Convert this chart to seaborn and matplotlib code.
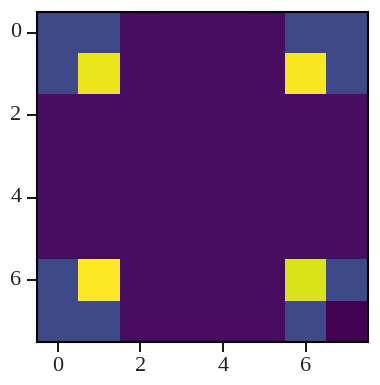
import numpy as np
import pandas as pd
import seaborn as sns
import matplotlib
matplotlib.use("Agg")
import matplotlib.pyplot as plt
from matplotlib import font_manager

sns.set_style("ticks")
names = sorted({f.name for f in font_manager.fontManager.ttflist})
print(names)
plt.rcParams['font.family'] = ['Liberation Serif']

row0 = [0.22, 0.22, 0.035, 0.036, 0.036, 0.035, 0.22, 0.22]
row1 = [0.22, 0.97, 0.035, 0.034, 0.034, 0.034, 0.99, 0.22]
row2 = [0.034, 0.033, 0.035, 0.035, 0.035, 0.034, 0.034, 0.035]
row3 = [0.033, 0.033, 0.035, 0.035, 0.035, 0.036, 0.035, 0.035]
row4 = [0.033, 0.034, 0.034, 0.035, 0.034, 0.034, 0.034, 0.035]
row5 = [0.034, 0.034, 0.035, 0.035, 0.034, 0.037, 0.034, 0.035]
row6 = [0.22, 1.0, 0.034, 0.035, 0.036, 0.033, 0.945, 0.22]
row7 = [0.22, 0.22, 0.034, 0.035, 0.034, 0.034, 0.22, 0.0]
tick_labels = ["0", "2", "4", "6"]
tick_index = [0, 2, 4, 6]

data = pd.DataFrame([row0, row1, row2, row3, row4, row5, row6, row7])

fig = plt.figure(figsize=(3.8, 3.85), dpi=100)
ax = fig.add_axes([0.097, 0.112, 0.871, 0.857])
sns.heatmap(data, ax=ax, cmap="viridis", vmin=0.0, vmax=1.0, cbar=False,
            square=False, linewidths=0)
ax.set_xticks([i + 0.5 for i in tick_index])
ax.set_xticklabels(tick_labels, rotation=0)
ax.set_yticks([i + 0.5 for i in tick_index])
ax.set_yticklabels(tick_labels, rotation=0)
for s in ax.spines.values():
    s.set_visible(True)
    s.set_color("black")
    s.set_linewidth(1.5)
ax.tick_params(axis="both", which="major", length=7, width=1.3, labelsize=16,
               direction="out", color="black", labelcolor="#222222", pad=4)
ax.set_xlabel("")
ax.set_ylabel("")
fig.savefig("out.png", dpi=100)
